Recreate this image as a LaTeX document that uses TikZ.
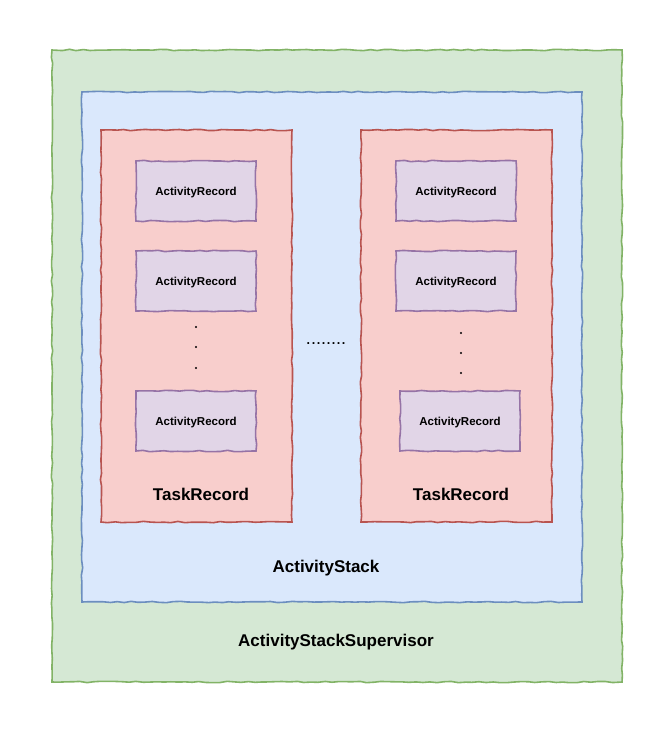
\documentclass[tikz,border=0pt]{standalone}
\usepackage{fontspec}
\setmainfont{Liberation Sans}
\usetikzlibrary{decorations.pathmorphing}
\definecolor{supfill}{HTML}{D5E8D4}
\definecolor{supline}{HTML}{82B366}
\definecolor{stackfill}{HTML}{DAE8FC}
\definecolor{stackline}{HTML}{6C8EBF}
\definecolor{taskfill}{HTML}{F8CECC}
\definecolor{taskline}{HTML}{B85450}
\definecolor{recfill}{HTML}{E1D5E7}
\definecolor{recline}{HTML}{9673A6}
\tikzset{
  sketch/.style={decorate, decoration={random steps, segment length=7pt, amplitude=0.7pt}},
  supbox/.style={draw=supline, fill=supfill, line width=1.6pt, sketch},
  stackbox/.style={draw=stackline, fill=stackfill, line width=1.6pt, sketch},
  taskbox/.style={draw=taskline, fill=taskfill, line width=1.6pt, sketch},
  recbox/.style={draw=recline, fill=recfill, line width=1.6pt, sketch},
  bigtext/.style={font=\fontsize{17}{20}\selectfont\bfseries},
  rectext/.style={font=\fontsize{11.5}{14}\selectfont\bfseries},
  dot/.style={circle, fill=black, inner sep=0pt, minimum size=2.2pt}
}
\begin{document}
\begin{tikzpicture}[x=1pt, y=-1pt]
      \useasboundingbox (0,0) rectangle (672,732);
      \fill[supfill, supbox] (52,50) rectangle (622,682);
      \fill[stackbox] (82,92) rectangle (582,602);
      \fill[taskbox] (101,130) rectangle (292,522);
      \fill[taskbox] (361,130) rectangle (552,522);
      \draw
        (196,191) node[recbox, minimum width=120pt, minimum height=60pt] (r1){}
        (196,281) node[recbox, minimum width=120pt, minimum height=60pt] (r2){}
        (196,421) node[recbox, minimum width=120pt, minimum height=60pt] (r3){}
        (456,191) node[recbox, minimum width=120pt, minimum height=60pt] (r4){}
        (456,281) node[recbox, minimum width=120pt, minimum height=60pt] (r5){}
        (460,421) node[recbox, minimum width=120pt, minimum height=60pt] (r6){};
      \draw
        (196,193) node[rectext] (l1){ActivityRecord}
        (196,283) node[rectext] (l2){ActivityRecord}
        (196,423) node[rectext] (l3){ActivityRecord}
        (456,193) node[rectext] (l4){ActivityRecord}
        (456,283) node[rectext] (l5){ActivityRecord}
        (460,423) node[rectext] (l6){ActivityRecord};
      \draw
        (196,327) node[dot] (d1){}
        (196,347) node[dot] (d2){}
        (196,368) node[dot] (d3){}
        (461,333) node[dot] (d4){}
        (461,353) node[dot] (d5){}
        (461,373) node[dot] (d6){}
        (326,344) node[font=\fontsize{18}{20}\selectfont] (gap){........}
        (201,494) node[bigtext] (t1){TaskRecord}
        (461,494) node[bigtext] (t2){TaskRecord}
        (326,568) node[bigtext] (stack){ActivityStack}
        (336,642) node[bigtext] (sup){ActivityStackSupervisor};
    \end{tikzpicture}
\end{document}
